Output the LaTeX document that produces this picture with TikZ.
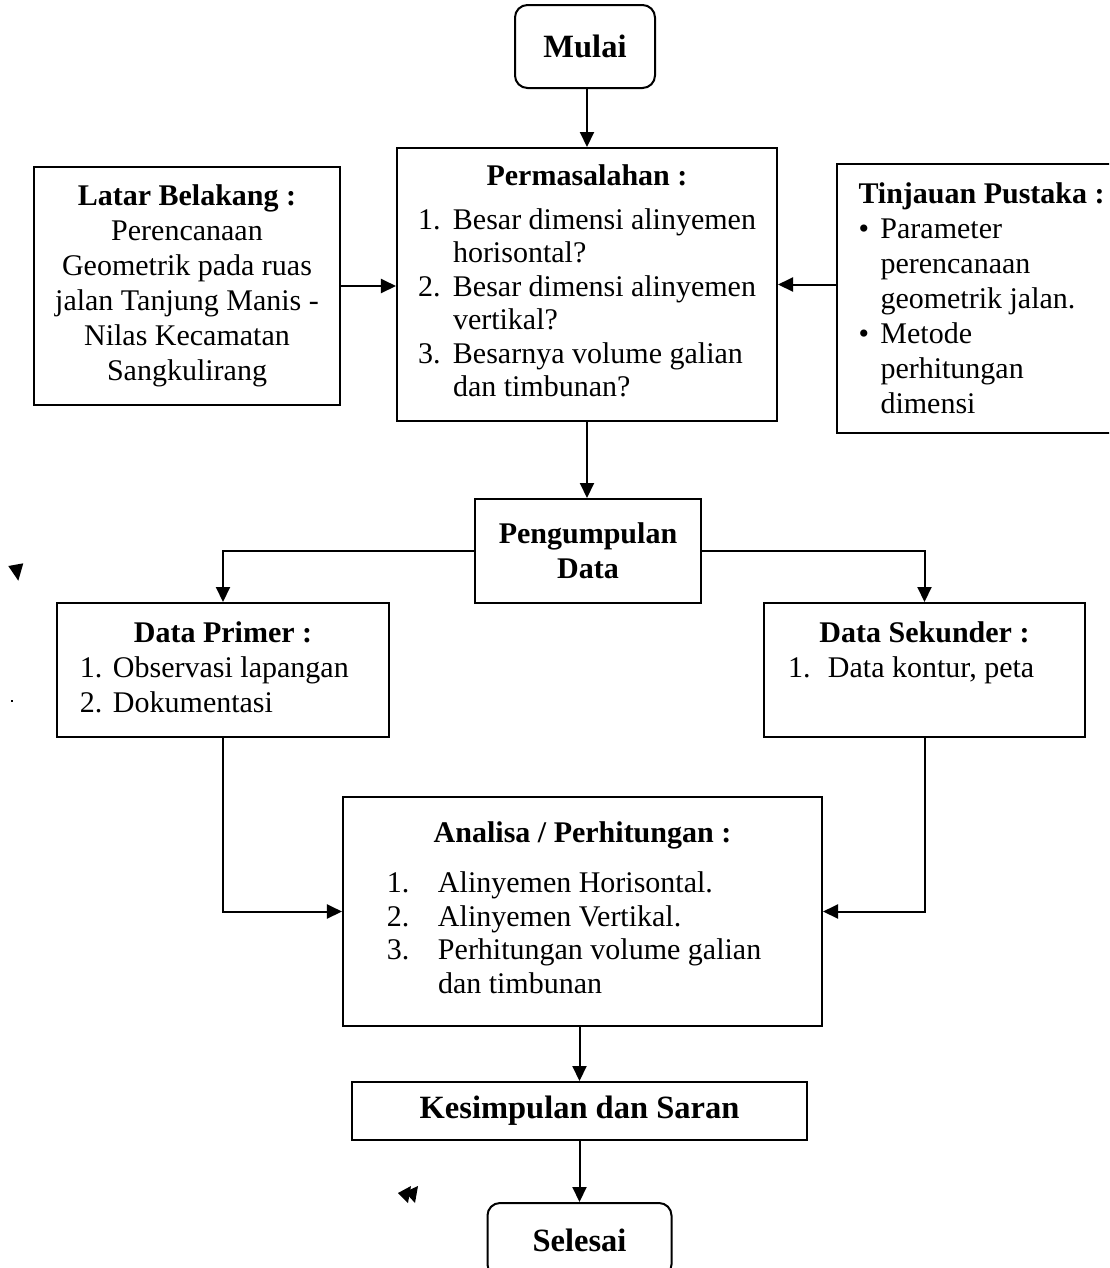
\documentclass[tikz,border=0pt]{standalone}
\usepackage{fontspec}
\setmainfont{Liberation Serif}
\usetikzlibrary{arrows.meta,positioning}

\begin{document}
\begin{tikzpicture}[x=0.4pt,y=-0.4pt,
  every node/.style={font=\fontsize{12}{14}\selectfont},
  box/.style={draw,line width=0.8pt,inner sep=0pt},
  tightbox/.style={box,font=\fontsize{12}{13.4}\selectfont},
  endbox/.style={box,rounded corners=5pt,font=\fontsize{13}{15}\selectfont\bfseries},
  flow/.style={line width=0.8pt,-{Triangle[length=6pt,width=5.6pt]}}]

\useasboundingbox (0,0) rectangle (1109,1268);
\clip (0,0) rectangle (1109,1268);

\node[endbox,minimum width=56pt,minimum height=33.2pt] (mulai) at (585,46.5) {Mulai};

\node[box,minimum width=122.4pt,minimum height=95.2pt,align=center] (latar) at (187,286)
{\textbf{Latar Belakang :}\\Perencanaan\\Geometrik pada ruas\\jalan Tanjung Manis -\\Nilas Kecamatan\\Sangkulirang};

\node[tightbox,minimum width=152pt,minimum height=109.2pt] (masalah) at (587,284.5)
{\begin{tabular}{@{}p{14pt}@{}p{121.2pt}@{}}
\multicolumn{2}{@{}c@{}}{\bfseries Permasalahan :}\\[4pt]
1. & Besar dimensi alinyemen\\
   & horisontal?\\
2. & Besar dimensi alinyemen\\
   & vertikal?\\
3. & Besarnya volume galian\\
   & dan timbunan?
\end{tabular}};

\node[box,anchor=north west,minimum width=113.6pt,minimum height=107.6pt] (tinjauan) at (836,163) {};
\node[anchor=north west,inner sep=0pt,align=left] (tinjauantxt) at (858,182)
{\textbf{Tinjauan Pustaka :}\\
\makebox[8.8pt][l]{\textbullet}Parameter\\
\hspace*{8.8pt}perencanaan\\
\hspace*{8.8pt}geometrik jalan.\\
\makebox[8.8pt][l]{\textbullet}Metode\\
\hspace*{8.8pt}perhitungan\\
\hspace*{8.8pt}dimensi};

\node[box,minimum width=90.4pt,minimum height=41.6pt,align=center,font=\fontsize{12}{14}\selectfont\bfseries] (kumpul) at (588,551)
{Pengumpulan\\Data};

\node[box,minimum width=132.8pt,minimum height=53.6pt] (primer) at (223,670)
{\begin{tabular}{@{}p{13.2pt}@{}p{101.2pt}@{}}
\multicolumn{2}{@{}c@{}}{\bfseries Data Primer :}\\
1. & Observasi lapangan\\
2. & Dokumentasi
\end{tabular}};

\node[box,minimum width=128.4pt,minimum height=53.6pt] (sekunder) at (924.5,670)
{\begin{tabular}{@{}p{16pt}@{}p{93.2pt}@{}}
\multicolumn{2}{@{}c@{}}{\bfseries Data Sekunder :}\\
1. & Data kontur, peta\\
   &
\end{tabular}};

\node[tightbox,minimum width=191.6pt,minimum height=91.6pt] (analisa) at (582.5,911.5)
{\begin{tabular}{@{}p{20.4pt}@{}p{136pt}@{}}
\multicolumn{2}{@{}c@{}}{\bfseries Analisa / Perhitungan :}\\[6.6pt]
1. & Alinyemen Horisontal.\\
2. & Alinyemen Vertikal.\\
3. & Perhitungan volume galian\\
   & dan timbunan
\end{tabular}};

\node[box,minimum width=182pt,minimum height=23.2pt,font=\fontsize{13}{15}\selectfont\bfseries] (simpul) at (579.5,1111)
{Kesimpulan dan Saran};

\node[endbox,minimum width=73.6pt,minimum height=29.6pt] (selesai) at (579.5,1240) {Selesai};

\draw[flow] (masalah.north |- mulai.south) -- (masalah.north);
\draw[flow] (latar.east) -- (latar.east -| masalah.west);
\draw[flow] (tinjauan.west |- masalah.east) -- (masalah.east);
\draw[flow] (masalah.south) -- (masalah.south |- kumpul.north);
\draw[flow] (kumpul.west) -| (primer.north);
\draw[flow] (kumpul.east) -| (sekunder.north);
\draw[flow] (primer.south) |- (analisa.west);
\draw[flow] (sekunder.south) |- (analisa.east);
\draw[flow] (simpul.north |- analisa.south) -- (simpul.north);
\draw[flow] (simpul.south) -- (selesai.north);

\fill (8.3,566) -- (23.3,563.3) -- (18.3,580.7) -- cycle;
\fill (10.7,699.7) rectangle (12.7,701.7);
\fill (398,1193) -- (411,1186) -- (408,1203) -- cycle;
\fill (405,1192) -- (418,1186) -- (415,1203) -- cycle;

\end{tikzpicture}
\end{document}
